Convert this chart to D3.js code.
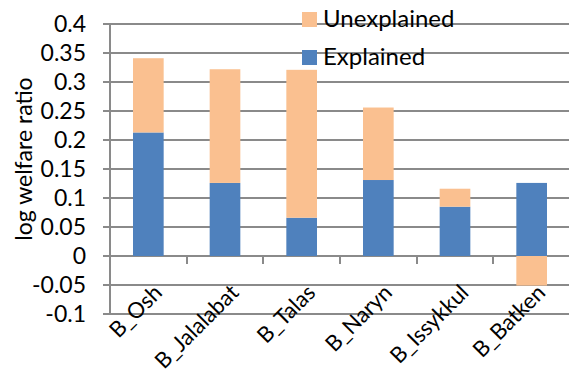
<!DOCTYPE html>
<html>
<head>
<meta charset="utf-8">
<script src="https://cdn.jsdelivr.net/npm/d3@7"></script>
<style>
  html, body { margin: 0; padding: 0; background: #fff; }
  svg { display: block; font-family: Lato, "Open Sans", sans-serif; }
</style>
</head>
<body>
<svg id="chart" width="569" height="375"></svg>
<script>
// Decomposition of the log welfare ratio by oblast
const categories = ["B_Osh", "B_Jalalabat", "B_Talas", "B_Naryn", "B_Issykkul", "B_Batken"];
const explained = [0.213, 0.126, 0.066, 0.131, 0.085, 0.126];
const unexplained = [0.128, 0.196, 0.255, 0.125, 0.031, -0.051];
const yTicks = [-0.1, -0.05, 0, 0.05, 0.1, 0.15, 0.2, 0.25, 0.3, 0.35, 0.4];
const seriesNames = ["Unexplained", "Explained"];
const colors = { Explained: "#4F81BD", Unexplained: "#FAC090" };

const svg = d3.select("#chart");
const margin = { left: 110, right: 0, top: 24, bottom: 61 };
const W = 569, H = 375;

const x = d3.scaleBand().domain(categories).range([margin.left, 570]).paddingInner(0.6).paddingOuter(0.3);
const y = d3.scaleLinear().domain([-0.1, 0.4]).range([H - margin.bottom, margin.top]);

const grid = "#8a8a8a";
const py = v => Math.round(y(v));

// horizontal gridlines with small outward ticks
svg.append("g").selectAll("line").data(yTicks).join("line")
  .attr("x1", margin.left - 7).attr("x2", 569)
  .attr("y1", d => py(d)).attr("y2", d => py(d))
  .attr("stroke", grid).attr("stroke-width", 2);

// y tick labels
svg.append("g").selectAll("text").data(yTicks).join("text")
  .attr("x", 86).attr("y", d => y(d))
  .attr("dy", "0.36em").attr("text-anchor", "end")
  .attr("font-size", 23).attr("fill", "#000")
  .text(d => String(d));

// stacked bars
const rows = categories.map((c, i) => ({ c, e: explained[i], u: unexplained[i] }));
const segs = [];
rows.forEach(r => {
  segs.push({ c: r.c, y0: 0, y1: r.e, s: "Explained" });
  if (r.u >= 0) segs.push({ c: r.c, y0: r.e, y1: r.e + r.u, s: "Unexplained" });
  else segs.push({ c: r.c, y0: r.u, y1: 0, s: "Unexplained" });
});
svg.append("g").selectAll("rect").data(segs).join("rect")
  .attr("x", d => x(d.c)).attr("width", x.bandwidth())
  .attr("y", d => y(d.y1)).attr("height", d => y(d.y0) - y(d.y1))
  .attr("fill", d => colors[d.s]);

// category axis at zero with tick marks between categories
const step = x.step();
const bounds = d3.range(1, categories.length).map(i => x(categories[i]) - (step - x.bandwidth()) / 2);
svg.append("g").selectAll("line").data(bounds).join("line")
  .attr("x1", d => Math.round(d)).attr("x2", d => Math.round(d))
  .attr("y1", py(0)).attr("y2", py(0) + 8)
  .attr("stroke", grid).attr("stroke-width", 2);

// vertical axis line
svg.append("line")
  .attr("x1", margin.left).attr("x2", margin.left)
  .attr("y1", py(0.4)).attr("y2", py(-0.1))
  .attr("stroke", grid).attr("stroke-width", 2);

// category labels, slanted up at 45 degrees, end-anchored under each bar
const c45 = Math.SQRT1_2;
svg.append("g").selectAll("text").data(categories).join("text")
  .attr("transform", d => `matrix(${c45},${-c45},${c45},${c45},${x(d) + x.bandwidth() / 2 + 15},${y(0) + 38})`)
  .attr("text-anchor", "end")
  .attr("font-size", 22).attr("fill", "#000")
  .text(d => d);

// y axis title
svg.append("text")
  .attr("transform", `translate(32,${(y(0.4) + y(-0.1)) / 2 - 10}) rotate(-90)`)
  .attr("text-anchor", "middle")
  .attr("font-size", 23).attr("fill", "#000")
  .text("log welfare ratio");

// legend
const leg = svg.append("g").attr("transform", "translate(302,12)");
seriesNames.forEach((s, i) => {
  leg.append("rect").attr("x", 0).attr("y", i * 38).attr("width", 15).attr("height", 15).attr("fill", colors[s]);
  leg.append("text").attr("x", 21).attr("y", i * 38 + 15)
    .attr("font-size", 24).attr("fill", "#000").text(s);
});
</script>
</body>
</html>
